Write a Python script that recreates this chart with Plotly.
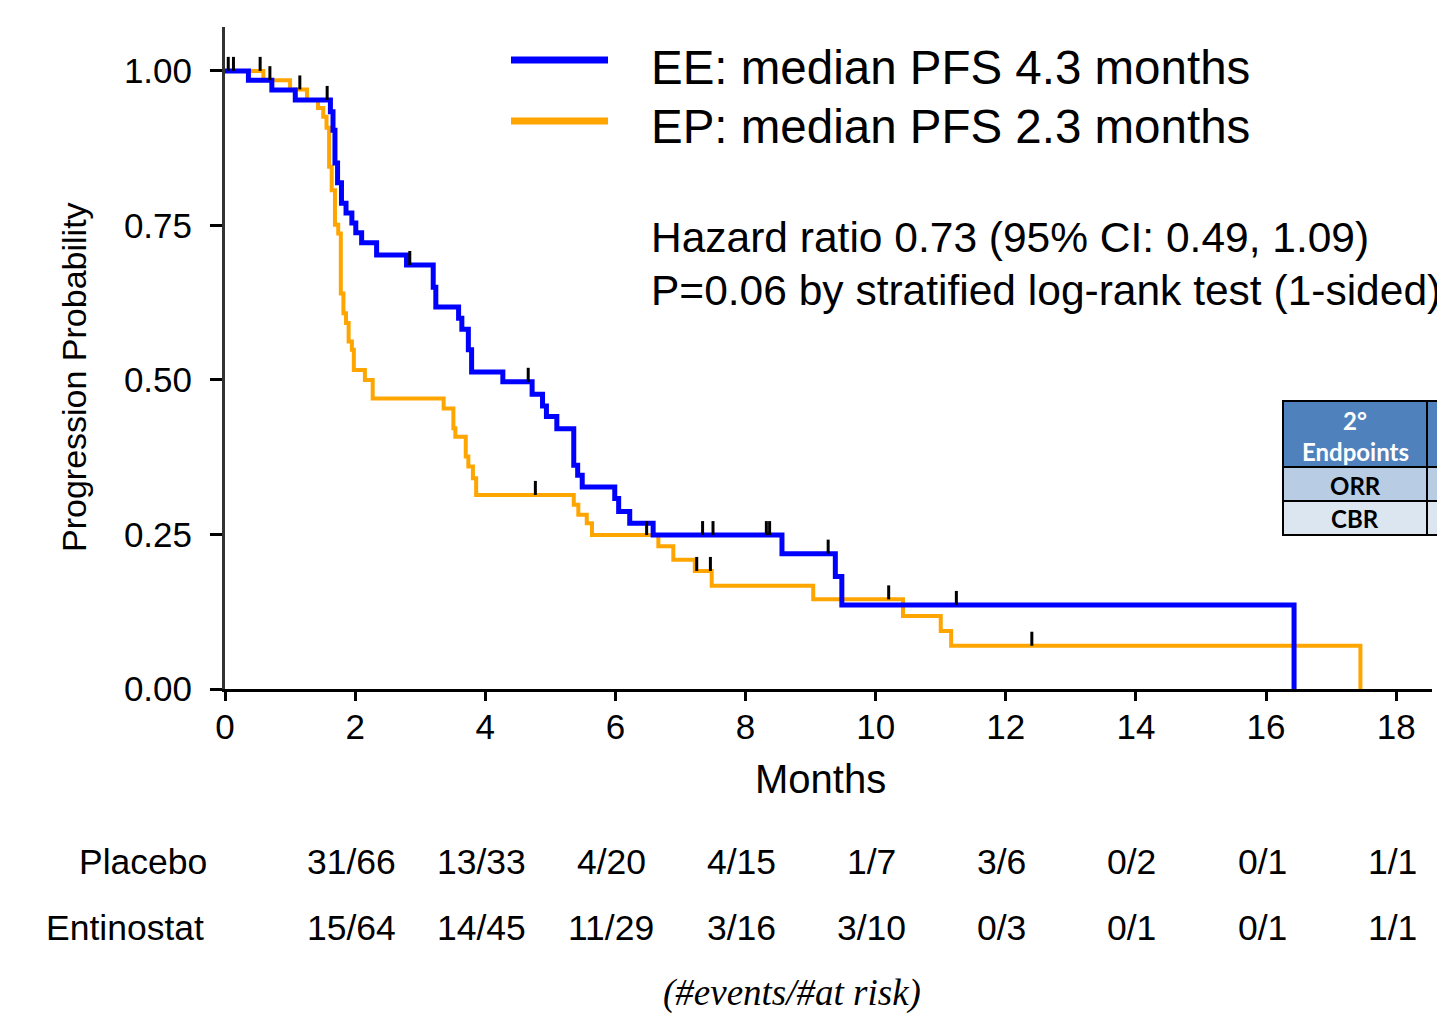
import plotly.graph_objects as go

# ---------------- data ----------------
# EE (blue): event times (months) and survival level after each step
ee_times = [0, 0.36, 0.72, 1.08, 1.62, 1.66, 1.69, 1.73, 1.79, 1.86, 1.95, 2.01, 2.10, 2.33,
            2.79, 3.20, 3.24, 3.59, 3.64, 3.74, 3.79, 4.27, 4.72, 4.88, 4.94, 5.10, 5.36,
            5.42, 5.49, 5.99, 6.05, 6.22, 6.58, 8.56, 9.38, 9.48, 16.43]
ee_surv = [1.0, 0.985, 0.969, 0.953, 0.934, 0.904, 0.851, 0.819, 0.786, 0.770, 0.754, 0.738,
           0.722, 0.702, 0.686, 0.650, 0.618, 0.600, 0.582, 0.549, 0.513, 0.497, 0.477, 0.458,
           0.441, 0.421, 0.362, 0.346, 0.327, 0.308, 0.287, 0.268, 0.249, 0.219, 0.182, 0.136, 0.0]
ee_censor = [0.05, 0.69, 1.57, 2.84, 4.66, 7.34, 7.50, 8.32, 8.37, 9.27, 11.24]

# EP (orange)
ep_times = [0, 0.59, 1.00, 1.26, 1.43, 1.51, 1.56, 1.60, 1.64, 1.69, 1.74, 1.78, 1.82, 1.86,
            1.90, 1.95, 1.98, 2.15, 2.27, 3.36, 3.51, 3.54, 3.70, 3.74, 3.81, 3.86, 5.36, 5.43,
            5.56, 5.64, 6.66, 6.89, 7.22, 7.48, 9.04, 10.42, 11.00, 11.16, 17.45]
ep_surv = [1.0, 0.985, 0.970, 0.953, 0.940, 0.926, 0.908, 0.845, 0.807, 0.751, 0.737, 0.640,
           0.608, 0.592, 0.562, 0.549, 0.516, 0.500, 0.470, 0.454, 0.422, 0.408, 0.376, 0.360,
           0.341, 0.314, 0.298, 0.282, 0.268, 0.249, 0.231, 0.209, 0.191, 0.167, 0.145, 0.118,
           0.094, 0.070, 0.0]
ep_censor = [0.13, 0.54, 1.15, 4.77, 6.48, 7.25, 7.46, 10.20, 12.40]

x_ticks = [0, 2, 4, 6, 8, 10, 12, 14, 16, 18]
y_ticks = [0, 0.25, 0.5, 0.75, 1.0]
y_tick_text = ["0.00", "0.25", "0.50", "0.75", "1.00"]

risk_months = [2, 4, 6, 8, 10, 12, 14, 16, 18]
placebo_risk = ["31/66", "13/33", "4/20", "4/15", "1/7", "3/6", "0/2", "0/1", "1/1"]
entinostat_risk = ["15/64", "14/45", "11/29", "3/16", "3/10", "0/3", "0/1", "0/1", "1/1"]

ee_label = "EE: median PFS 4.3 months"
ep_label = "EP: median PFS 2.3 months"
hr_line1 = "Hazard ratio 0.73 (95% CI: 0.49, 1.09)"
hr_line2 = "P=0.06 by stratified log-rank test (1-sided)"

# ---------------- layout geometry ----------------
W, H = 1437, 1014
L, R, T, B = 225, 5, 27, 325
PW, PH = W - L - R, H - T - B


def px(x):
    return (x - L) / PW


def py(y):
    return (H - B - y) / PH


def level_at(times, surv, t):
    lev = surv[0]
    for tt, s in zip(times, surv):
        if tt <= t:
            lev = s
    return lev


FONT = "Liberation Sans, Arial, sans-serif"
BLUE = "#0000FF"
ORANGE = "#FFA500"

fig = go.Figure()
fig.add_trace(go.Scatter(x=ep_times, y=ep_surv, mode="lines", line=dict(color=ORANGE, width=4, shape="hv"),
                         showlegend=False, hoverinfo="skip"))
fig.add_trace(go.Scatter(x=ee_times, y=ee_surv, mode="lines", line=dict(color=BLUE, width=5, shape="hv"),
                         showlegend=False, hoverinfo="skip"))

tick_off = 7 / 618
cx = ee_censor + ep_censor
cy = [level_at(ee_times, ee_surv, t) + tick_off for t in ee_censor] + \
     [level_at(ep_times, ep_surv, t) + tick_off for t in ep_censor]
fig.add_trace(go.Scatter(x=cx, y=cy, mode="markers",
                         marker=dict(symbol="line-ns", size=10, line=dict(color="black", width=3)),
                         showlegend=False, hoverinfo="skip", cliponaxis=False))

ann = []
# legend
shapes = [
    dict(type="line", xref="paper", yref="paper", x0=px(511), x1=px(608), y0=py(60), y1=py(60),
         line=dict(color=BLUE, width=7)),
    dict(type="line", xref="paper", yref="paper", x0=px(511), x1=px(608), y0=py(121), y1=py(121),
         line=dict(color=ORANGE, width=7)),
]
ann.append(dict(xref="paper", yref="paper", x=px(649), y=py(68), text=ee_label, showarrow=False,
                xanchor="left", yanchor="middle", font=dict(size=47.5, color="black", family=FONT)))
ann.append(dict(xref="paper", yref="paper", x=px(649), y=py(126), text=ep_label, showarrow=False,
                xanchor="left", yanchor="middle", font=dict(size=47.5, color="black", family=FONT)))
ann.append(dict(xref="paper", yref="paper", x=px(649), y=py(238), text=hr_line1, showarrow=False,
                xanchor="left", yanchor="middle", font=dict(size=42.5, color="black", family=FONT)))
ann.append(dict(xref="paper", yref="paper", x=px(649), y=py(290), text=hr_line2, showarrow=False,
                xanchor="left", yanchor="middle", font=dict(size=42.5, color="black", family=FONT)))

# axis titles
ann.append(dict(xref="paper", yref="paper", x=px(820), y=py(779), text="Months", showarrow=False,
                xanchor="center", yanchor="middle", font=dict(size=40, color="black", family=FONT)))
ann.append(dict(xref="paper", yref="paper", x=px(74), y=py(377), text="Progression Probability",
                showarrow=False, textangle=-90, xanchor="center", yanchor="middle",
                font=dict(size=34, color="black", family=FONT)))

# risk table
RF = 35.5
ann.append(dict(xref="paper", yref="paper", x=px(143), y=py(862), text="Placebo", showarrow=False,
                xanchor="center", yanchor="middle", font=dict(size=RF, color="black", family=FONT)))
ann.append(dict(xref="paper", yref="paper", x=px(125), y=py(928), text="Entinostat", showarrow=False,
                xanchor="center", yanchor="middle", font=dict(size=RF, color="black", family=FONT)))
for m, a, b in zip(risk_months, placebo_risk, entinostat_risk):
    ann.append(dict(xref="x", yref="paper", x=m, xshift=-4, y=py(862), text=a, showarrow=False,
                    xanchor="center", yanchor="middle", font=dict(size=RF, color="black", family=FONT)))
    ann.append(dict(xref="x", yref="paper", x=m, xshift=-4, y=py(928), text=b, showarrow=False,
                    xanchor="center", yanchor="middle", font=dict(size=RF, color="black", family=FONT)))
ann.append(dict(xref="paper", yref="paper", x=px(792), y=py(993), text="<i>(#events/#at risk)</i>",
                showarrow=False, xanchor="center", yanchor="middle",
                font=dict(size=37, color="black", family="Liberation Serif, Times New Roman, serif")))

# secondary endpoints table
rows = [(401, 467, "#4F81BD"), (467, 501, "#B8CCE4"), (501, 535, "#DCE6F1")]
for y0, y1, c in rows:
    for x0, x1 in [(1283, 1427), (1427, 1460)]:
        shapes.append(dict(type="rect", xref="paper", yref="paper", x0=px(x0), x1=px(x1), y0=py(y1), y1=py(y0),
                           fillcolor=c, line=dict(color="black", width=2), layer="below"))
TFONT = "Lato, Open Sans, sans-serif"
ann.append(dict(xref="paper", yref="paper", x=px(1355), y=py(420), text="<b>2°</b>", showarrow=False,
                xanchor="center", yanchor="middle", font=dict(size=24, color="white", family=TFONT)))
ann.append(dict(xref="paper", yref="paper", x=px(1355), y=py(451), text="<b>Endpoints</b>", showarrow=False,
                xanchor="center", yanchor="middle", font=dict(size=24, color="white", family=TFONT)))
ann.append(dict(xref="paper", yref="paper", x=px(1355), y=py(485), text="<b>ORR</b>", showarrow=False,
                xanchor="center", yanchor="middle", font=dict(size=24, color="black", family=TFONT)))
ann.append(dict(xref="paper", yref="paper", x=px(1355), y=py(518), text="<b>CBR</b>", showarrow=False,
                xanchor="center", yanchor="middle", font=dict(size=24, color="black", family=TFONT)))

fig.update_layout(
    width=W, height=H,
    margin=dict(l=L, r=R, t=T, b=B, pad=0),
    paper_bgcolor="white", plot_bgcolor="white",
    showlegend=False,
    shapes=shapes,
    annotations=ann,
    xaxis=dict(range=[0, 18.55], tickvals=x_ticks, ticks="outside", ticklen=9, tickwidth=3,
               tickcolor="black", showline=True, linecolor="black", linewidth=3,
               showgrid=False, zeroline=False, ticklabelstandoff=-4,
               tickfont=dict(size=35, color="black", family=FONT)),
    yaxis=dict(range=[0, 1.071], tickvals=y_ticks, ticktext=y_tick_text, ticks="outside", ticklen=12,
               tickwidth=3, tickcolor="black", showline=True, linecolor="#333333", linewidth=3,
               showgrid=False, zeroline=False, ticklabelstandoff=11,
               tickfont=dict(size=35, color="black", family=FONT)),
)

fig.write_html("out.html")
